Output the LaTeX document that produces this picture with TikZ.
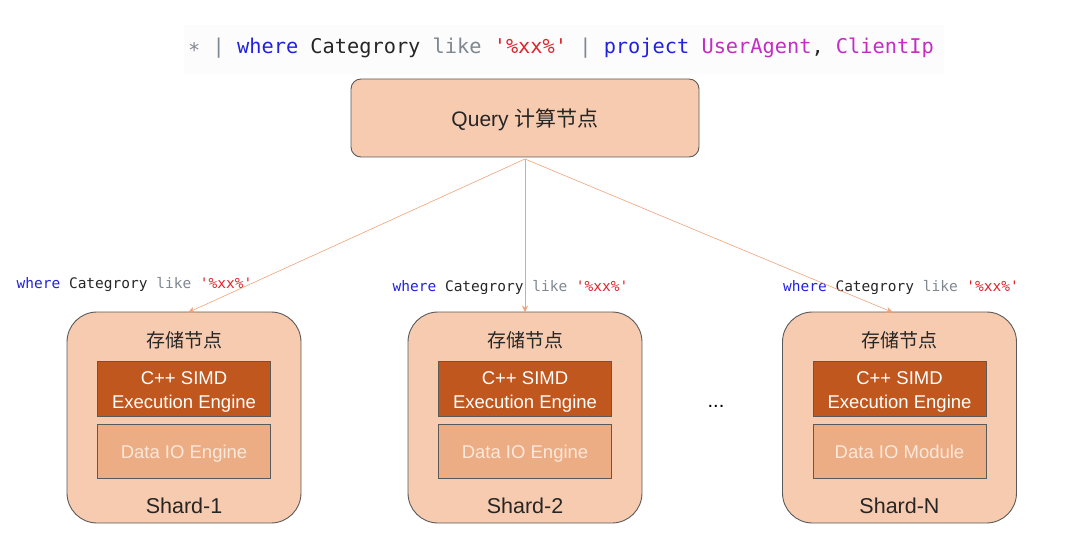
\documentclass[tikz,border=0pt]{standalone}
\usepackage{fontspec}
\setmainfont{Liberation Sans}
\newfontfamily\cjk{Noto Sans CJK SC}
\newfontfamily\codefont{DejaVu Sans Mono}
\usetikzlibrary{arrows.meta}
\definecolor{peach}{HTML}{F7CBB0}
\definecolor{simd}{HTML}{C0571F}
\definecolor{dataio}{HTML}{EDAD84}
\definecolor{dataiotxt}{HTML}{FCE8DA}
\definecolor{edge}{HTML}{5A5A5A}
\definecolor{arrowc}{HTML}{F0A27A}
\definecolor{kw}{HTML}{2222DD}
\definecolor{gr}{HTML}{7F8790}
\definecolor{rd}{HTML}{E0242C}
\definecolor{mg}{HTML}{C32DC3}
\definecolor{codebg}{HTML}{FCFCFD}
\tikzset{
  querybox/.style={draw=edge, line width=0.9pt, fill=peach, rounded corners=10pt, minimum width=348pt, minimum height=78pt},
  shardbox/.style={draw=edge, line width=0.9pt, fill=peach, rounded corners=30pt, minimum width=234pt, minimum height=211pt},
  simdbox/.style={draw=edge, line width=0.7pt, fill=simd, minimum width=173pt, minimum height=55pt},
  iobox/.style={draw=edge, line width=0.7pt, fill=dataio, minimum width=173pt, minimum height=54pt},
  qtxt/.style={font=\fontsize{21}{25}\selectfont, text=black!85},
  simdtxt/.style={text=white, align=center, font=\fontsize{18.5}{24}\selectfont},
  iotxt/.style={text=dataiotxt, font=\fontsize{18.5}{22}\selectfont, text height=13.5pt, text depth=4pt},
  ttl/.style={font=\cjk\fontsize{19}{22}\selectfont, text=black!85},
  shname/.style={font=\fontsize{21.5}{24}\selectfont, text=black!85, text height=15.5pt, text depth=4.5pt},
  codelbl/.style={font=\codefont\fontsize{14.5}{17}\selectfont, inner sep=1pt},
  flow/.style={draw=arrowc, line width=0.6pt, -{Stealth[length=7pt,width=6pt]}}
}
\newcommand{\wherelbl}{\textcolor{kw}{where} \textcolor{black!85}{Categrory} \textcolor{gr}{like} \textcolor{rd}{'\%xx\%'}}
\begin{document}
\begin{tikzpicture}[x=1pt,y=-1pt]
\useasboundingbox (0,0) rectangle (1080,559);
% top code line
\fill[codebg] (184,25) rectangle (944,74);
\node[font=\codefont\fontsize{20.3}{24}\selectfont, inner sep=0pt] (code) at (561,48) {\textcolor{gr}{∗ |} \textcolor{kw}{where} \textcolor{black!85}{Categrory} \textcolor{gr}{like} \textcolor{rd}{'\%xx\%'} \textcolor{gr}{|} \textcolor{kw}{project} \textcolor{mg}{UserAgent}\textcolor{black!85}{,} \textcolor{mg}{ClientIp}};
% query node
\node[querybox] (q) at (525,118) {};
\node[qtxt] (qt) at (525,120) {Query {\cjk 计算节点}};
\coordinate (qb) at (525,159);
% shards
\foreach \n/\cx/\io/\nm in {s1/184/Data IO Engine/Shard-1, s2/525/Data IO Engine/Shard-2, s3/899.5/Data IO Module/Shard-N}{
  \node[shardbox] (\n) at (\cx,417.5) {};
  \node[ttl] (\n t) at (\cx,340) {存储节点};
  \node[simdbox] (\n e) at (\cx,388.5) {};
  \node[simdtxt] (\n et) at (\cx,391.5) {C++ SIMD\\Execution Engine};
  \node[iobox] (\n d) at (\cx,451) {};
  \node[iotxt] (\n dt) at (\cx,454) {\io};
  \node[shname] (\n n) at (\cx,508) {\nm};
}
% labels
\node[codelbl] (l1) at (134.5,285) {\wherelbl};
\node[codelbl] (l2) at (510.5,288) {\wherelbl};
\node[codelbl] (l3) at (901,288) {\wherelbl};
% arrows
\coordinate (t1) at (188,312.5);
\coordinate (t2) at (525,312.5);
\coordinate (t3) at (893,312.5);
\draw[flow] (qb) -- (t1);
\draw[flow] (qb) -- (t2);
\draw[flow] (qb) -- (t3);
% dots
\node[font=\fontsize{20}{22}\selectfont] (dots) at (716,406) {...};
\end{tikzpicture}
\end{document}
